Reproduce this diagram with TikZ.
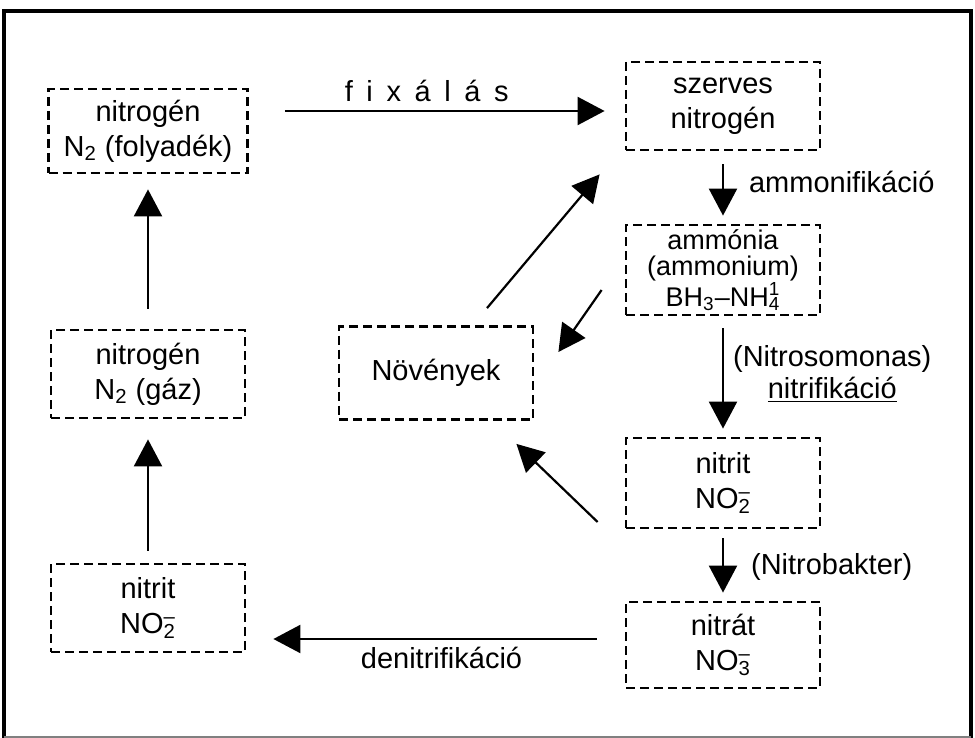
\documentclass[tikz,border=0pt]{standalone}
\usepackage{fontspec}
\setmainfont{Liberation Sans}
\usetikzlibrary{calc}
\usetikzlibrary{arrows.meta,positioning}
\newcommand{\ionform}[2]{\rlap{\textsuperscript{#2}}\textsubscript{#1}}

\begin{document}
\begin{tikzpicture}[x=0.5pt,y=-0.5pt,
        box/.style={draw,dash pattern=on 4.5pt off 2.5pt,line width=1.4pt,minimum width=97pt,minimum height=44pt,
            align=center,inner sep=0pt,font=\fontsize{14.5}{17.5}\selectfont},
        arr/.style={-{Triangle[length=13.5pt,width=14pt]},line width=1.1pt},
        lbl/.style={inner sep=0pt,align=center,font=\fontsize{14.5}{16}\selectfont}]
        \useasboundingbox (0,0) rectangle (975,738);
        \draw[line width=2pt] (4,738) -- (4,11) -- (971,11) -- (971,738);
        \draw[gray,line width=0.6pt] (4,737) -- (971,737);
        \node[box,minimum width=99.5pt,minimum height=42pt] (folyadek) at (148,131) {nitrogén\\N\textsubscript{2} (folyadék)};
        \node[box] (gaz) at (148,374) {nitrogén\\N\textsubscript{2} (gáz)};
        \node[box] (nitritL) at (148,608) {nitrit\\NO\ionform{2}{--}};
        \node[box] (szerves) at (723,106) {szerves\\nitrogén};
        \node[box,minimum height=45pt,font=\fontsize{13.5}{13}\selectfont] (ammonia) at (723,270) {ammónia\\(ammonium)\\BH\textsubscript{3}--NH\ionform{4}{1}};
        \node[box,minimum height=46.5pt] (novenyek) at (436,373) {Növények};
        \node[box,minimum height=45pt] (nitritR) at (723,483) {nitrit\\NO\ionform{2}{--}};
        \node[box,minimum height=43pt] (nitrat) at (723,645) {nitrát\\NO\ionform{3}{--}};
        \coordinate (fixstart) at ([xshift=18pt,yshift=10pt]folyadek.east);
        \coordinate (denistart) at ([xshift=-14pt,yshift=3pt]nitrat.west);
        \coordinate (p1) at ([xshift=25.5pt,yshift=8.5pt]novenyek.north);
        \coordinate (p2) at ([xshift=-12.5pt,yshift=-11.5pt]szerves.south west);
        \coordinate (p3) at ([xshift=-11.5pt,yshift=-10pt]ammonia.west);
        \coordinate (p4) at ([xshift=12pt,yshift=10.5pt]novenyek.east);
        \coordinate (p5) at ([xshift=-13.5pt,yshift=-19.5pt]nitritR.west);
        \coordinate (p6) at ([xshift=-9pt,yshift=-11.5pt]novenyek.south east);
        \draw[arr,shorten >=10pt] (fixstart) -- (fixstart -| szerves.west)
            node[lbl,midway,above=4pt,xshift=-14pt]{\spaceskip=.47em\relax f i x á l á s};
        \draw[arr,shorten <=6.5pt,shorten >=4pt] (szerves) -- (ammonia) node[lbl,midway,right=12.5pt,yshift=2.75pt]{ammonifikáció};
        \draw[arr,shorten <=6pt,shorten >=4pt] (ammonia) -- (nitritR) node[lbl,midway,right=4.5pt,yshift=1.25pt]{(Nitrosomonas)\\\underline{nitrifikáció}};
        \draw[arr,shorten <=4.5pt,shorten >=4pt] (nitritR) -- (nitrat) node[lbl,midway,right=13.5pt,yshift=-0.75pt]{(Nitrobakter)};
        \draw[arr,shorten >=13.5pt] (denistart) -- (denistart -| nitritL.east) node[lbl,midway,below=3.5pt,xshift=10pt]{denitrifikáció};
        \draw[arr,shorten <=6pt,shorten >=10pt] (nitritL) -- (gaz);
        \draw[arr,shorten <=10pt,shorten >=7.5pt] (gaz) -- (folyadek);
        \draw[arr] (p1) -- (p2);
        \draw[arr] (p3) -- (p4);
        \draw[arr] (p5) -- (p6);
    \end{tikzpicture}
\end{document}
